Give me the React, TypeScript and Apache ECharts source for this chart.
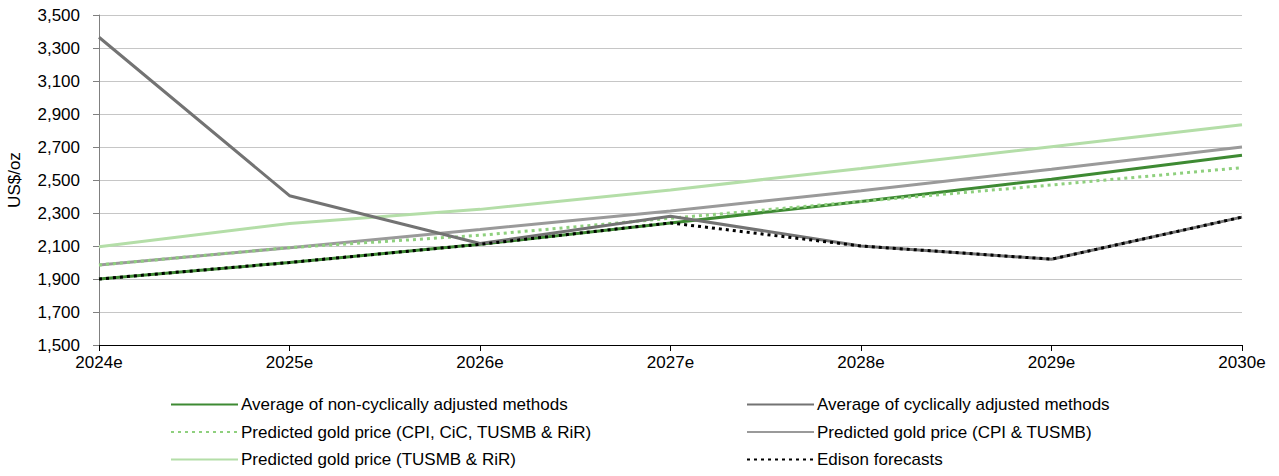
import React, { useEffect, useRef } from "react";
import * as echarts from "echarts";

const categories = ["2024e", "2025e", "2026e", "2027e", "2028e", "2029e", "2030e"];
const nonCyclical = [1900, 2000, 2110, 2240, 2370, 2505, 2650];
const cyclical = [3365, 2405, 2115, 2280, 2100, 2020, 2275];
const cpiCicTusmbRir = [1985, 2090, 2165, 2268, 2370, 2470, 2575];
const cpiTusmb = [1985, 2090, 2200, 2312, 2435, 2565, 2700];
const tusmbRir = [2095, 2237, 2322, 2440, 2570, 2702, 2835];
const edison = [1900, 2000, 2110, 2240, 2100, 2020, 2275];

const names = {
  nonCyc: "Average of non-cyclically adjusted methods",
  cyc: "Average of cyclically adjusted methods",
  cpiCic: "Predicted gold price (CPI, CiC, TUSMB & RiR)",
  cpiTus: "Predicted gold price (CPI & TUSMB)",
  tusRir: "Predicted gold price (TUSMB & RiR)",
  edison: "Edison forecasts",
};

const FONT = "'Liberation Sans', Arial, sans-serif";

export default function App() {
  const ref = useRef<HTMLDivElement>(null);
  useEffect(() => {
    if (!ref.current) return;
    const chart = echarts.init(ref.current, undefined, { renderer: "svg" });
    const mk = (name: string, data: number[], color: string, type: any, width = 3) => ({
      name,
      type: "line",
      data,
      symbol: "none",
      lineStyle: { color, width, type, cap: "butt" },
      itemStyle: { color },
    });
    const legendCommon = {
      orient: "vertical",
      padding: 0,
      itemWidth: 67,
      itemHeight: 12,
      itemGap: 10.5,
      itemStyle: { opacity: 0 },
      textStyle: { fontFamily: FONT, fontSize: 17, color: "#000", padding: [0, 0, 0, -2] },
      selectedMode: false,
    };
    chart.setOption({
      animation: false,
      textStyle: { fontFamily: FONT },
      grid: { left: 99, right: 37, top: 15, bottom: 131, containLabel: false, outerBoundsMode: "none" },
      legend: [
        { ...legendCommon, left: 170, top: 396, data: [names.nonCyc, names.cpiCic, names.tusRir] },
        { ...legendCommon, left: 746, top: 396, data: [names.cyc, names.cpiTus, names.edison] },
      ],
      xAxis: {
        type: "category",
        data: categories,
        boundaryGap: false,
        axisLine: { lineStyle: { color: "#000", width: 1 } },
        axisTick: { show: true, length: 6, lineStyle: { color: "#000" } },
        axisLabel: { fontFamily: FONT, fontSize: 17, color: "#000", margin: 9 },
      },
      yAxis: {
        type: "value",
        min: 1500,
        max: 3500,
        interval: 200,
        name: "US$/oz",
        nameLocation: "middle",
        nameGap: 76,
        nameTextStyle: { fontFamily: FONT, fontSize: 17, color: "#000" },
        axisLine: { show: true, lineStyle: { color: "#808080", width: 1 } },
        axisTick: { show: true, length: 6, lineStyle: { color: "#808080" } },
        splitLine: { lineStyle: { color: "#c6c6c6", width: 1 } },
        axisLabel: {
          fontFamily: FONT,
          fontSize: 17,
          color: "#000",
          margin: 19,
          formatter: (v: number) => v.toLocaleString("en-US"),
        },
      },
      series: [
        mk(names.tusRir, tusmbRir, "#b4dea8", "solid"),
        mk(names.cpiTus, cpiTusmb, "#9a9a9a", "solid"),
        mk(names.nonCyc, nonCyclical, "#3e8a33", "solid"),
        mk(names.cpiCic, cpiCicTusmbRir, "#8fd07e", [3, 4]),
        mk(names.cyc, cyclical, "#737373", "solid"),
        mk(names.edison, edison, "#000000", [3, 4]),
      ],
    });
    return () => chart.dispose();
  }, []);
  return (
    <div
      ref={ref}
      style={{ position: "fixed", left: 0, top: 0, width: 1279, height: 476, background: "#fff" }}
    />
  );
}
